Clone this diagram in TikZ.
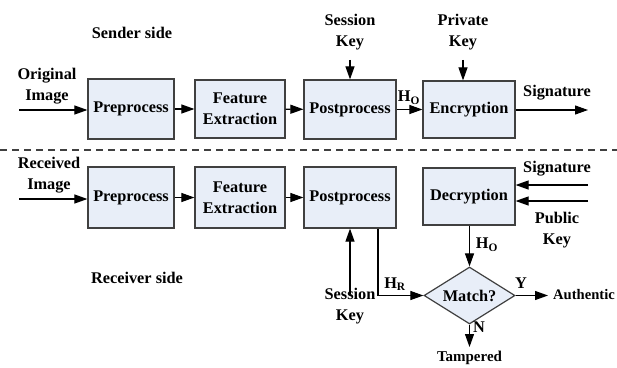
\documentclass[tikz,border=0pt]{standalone}
\usepackage{fontspec}
\setmainfont{Liberation Serif}
\usetikzlibrary{arrows.meta,shapes.geometric}
\definecolor{boxfill}{HTML}{E8EEF8}
\definecolor{edge}{HTML}{404040}
\tikzset{
  blk/.style={draw=edge, line width=1.2pt, fill=boxfill, align=center,
    inner sep=0pt, font=\bfseries\fontsize{16.3}{21}\selectfont},
  lbl/.style={align=center, inner sep=0pt, font=\bfseries\fontsize{16.3}{20.5}\selectfont},
  flow/.style={line width=1.1pt, -{Triangle[length=13pt,width=9pt]}},
}
\begin{document}
\begin{tikzpicture}[x=1pt,y=-1pt]
\useasboundingbox (0,0) rectangle (617,367);

% sender side
\node[lbl] (sender) at (132,33) {Sender side};
\node[blk, minimum width=86pt, minimum height=60pt] (pre1) at (131,109) {Preprocess};
\node[blk, minimum width=90pt, minimum height=58pt] (fe1) at (240,109) {Feature\\Extraction};
\node[blk, minimum width=92pt, minimum height=59pt] (post1) at (350,109.5) {Postprocess};
\node[blk, minimum width=92pt, minimum height=57pt] (enc) at (469,109.5) {Encryption};
\node[lbl] (orig) at (47,86) {Original\\Image};
\coordinate (origin) at (19,110);
\node[lbl] (sk1) at (350,32) {Session\\Key};
\node[lbl] (pk) at (463,32) {Private\\Key};
\node[lbl] (sig1) at (557,93) {Signature};
\coordinate (sigout) at (588,110);
\node[lbl] (ho1) at (409,98) {H\textsubscript{O}};

\draw[flow] (origin) -- (origin -| pre1.west);
\draw[flow] (pre1) -- (fe1);
\draw[flow] (fe1) -- (post1);
\draw[flow] (post1) -- (enc);
\draw[flow] (enc.east |- sigout) -- (sigout);
\draw[flow] ([yshift=-10pt]sk1.south) -- (sk1.south |- post1.north);
\draw[flow] ([yshift=-10pt]pk.south) -- (pk.south |- enc.north);

% separator
\draw[edge, line width=1.2pt, dash pattern=on 7pt off 5pt] (0,150) -- (617,150);

% receiver side
\node[lbl] (receiver) at (137,278) {Receiver side};
\node[blk, minimum width=86pt, minimum height=61pt] (pre2) at (131,197.5) {Preprocess};
\node[blk, minimum width=90pt, minimum height=61pt] (fe2) at (240,197.5) {Feature\\Extraction};
\node[blk, minimum width=92pt, minimum height=61pt] (post2) at (350,197.5) {Postprocess};
\node[blk, minimum width=92pt, minimum height=57pt] (dec) at (469,196.5) {Decryption};
\node[blk, shape=diamond, aspect=1.6, minimum width=91pt, minimum height=57pt] (match) at (469.5,295.5) {Match?};
\node[lbl] (recv) at (49,175) {Received\\Image};
\coordinate (recin) at (19,199);
\node[lbl] (sk2) at (350,306) {Session\\Key};
\node[lbl] (sig2) at (557,169) {Signature};
\node[lbl] (pub) at (557,230) {Public\\Key};
\coordinate (s2) at (588,185);
\coordinate (p2) at (588,201);
\node[lbl] (ho2) at (487,245) {H\textsubscript{O}};
\node[lbl] (hr) at (395,284) {H\textsubscript{R}};
\node[lbl] (yes) at (521,283) {Y};
\node[lbl] (no) at (479,327) {N};
\coordinate (auth) at (548,295.5);
\node[lbl, anchor=east, font=\bfseries\fontsize{14.6}{18}\selectfont] (authentic) at (615,295) {Authentic};
\coordinate (tamp) at (469.5,347);
\node[lbl, font=\bfseries\fontsize{15}{18}\selectfont] (tampered) at (469.5,358) {Tampered};

\draw[flow] (recin) -- (recin -| pre2.west);
\draw[flow] (pre2) -- (fe2);
\draw[flow] (fe2) -- (post2);
\draw[flow] ([yshift=-6pt]sk2.north) -- (sk2.north |- post2.south);
\draw[flow] ([xshift=28pt]post2.south) |- (match.west);
\draw[flow] (dec.south -| match.north) -- (match.north);
\draw[flow] (s2) -- (s2 -| dec.east);
\draw[flow] (p2) -- (p2 -| dec.east);
\draw[flow] (match.east) -- (auth);
\draw[flow] (match.south) -- (tamp);
\end{tikzpicture}
\end{document}
